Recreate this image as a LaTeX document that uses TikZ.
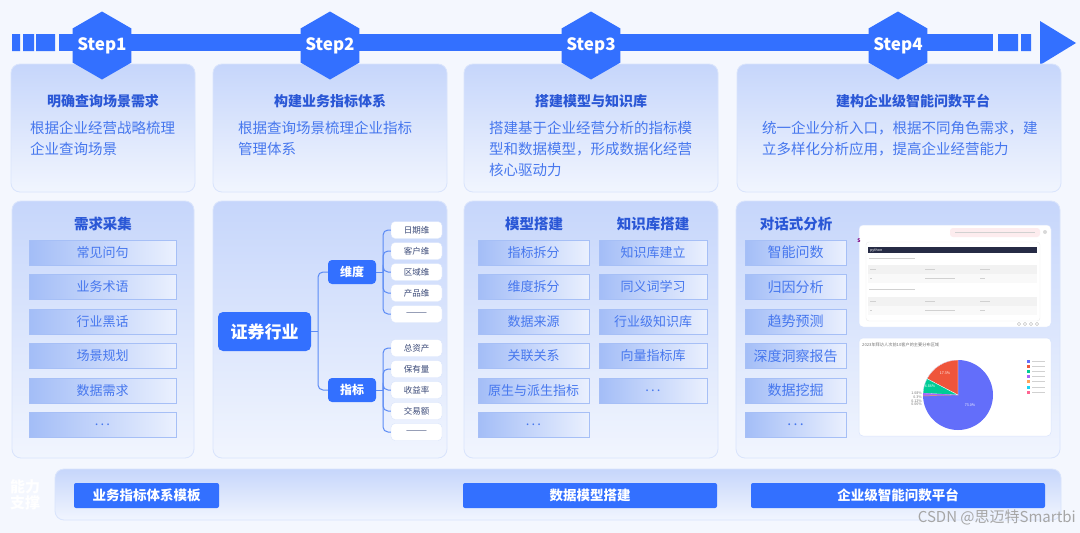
\documentclass[tikz,border=0pt]{standalone}
\usepackage{fontspec}
\setmainfont{Noto Sans CJK SC}
\usetikzlibrary{positioning, shapes.geometric}

\definecolor{pagebg}{HTML}{F4F7FE}
\definecolor{mainblue}{HTML}{3370FF}
\definecolor{titleblue}{HTML}{2A57D6}
\definecolor{textblue}{HTML}{4677EE}
\definecolor{cardtop}{HTML}{C6D6FB}
\definecolor{cardbot}{HTML}{F1F5FE}
\definecolor{cardline}{HTML}{D9E4FC}
\definecolor{itemleft}{HTML}{A3BDF7}
\definecolor{itemright}{HTML}{EAF0FE}
\definecolor{itemline}{HTML}{A6BFF6}
\definecolor{leafline}{HTML}{5B8BF5}
\definecolor{leaftext}{HTML}{3B4A78}
\definecolor{headdark}{HTML}{262B45}
\definecolor{bubble}{HTML}{FDECEE}
\definecolor{pieblue}{HTML}{636EFA}
\definecolor{piered}{HTML}{EF553B}
\definecolor{piegreen}{HTML}{00CC96}
\definecolor{piepurple}{HTML}{AB63FA}
\definecolor{pieorange}{HTML}{FFA15A}
\definecolor{piecyan}{HTML}{19D3F3}
\definecolor{piepink}{HTML}{FF6692}

\newcommand\fsz[2]{\fontsize{#1}{#2}\selectfont}
\newcommand\moredots{.\,.\,.}

\begin{document}
\begin{tikzpicture}[x=1pt, y=-1pt,
    panel/.style={draw=cardline, line width=0.8pt, rounded corners=9pt, top color=cardtop, bottom color=cardbot},
    stephex/.style={regular polygon, regular polygon sides=6, regular polygon rotate=30, fill=mainblue, minimum size=68pt, inner sep=0pt, outer sep=0pt},
    steplabel/.style={inner sep=0pt, text=white, font=\fsz{17}{17}\bfseries},
    cardtitle/.style={text=titleblue, font=\fsz{14}{16}\bfseries},
    cardbody/.style={text=textblue, font=\fsz{14.5}{21}, align=left, anchor=north west, inner sep=0pt},
    coltitle/.style={text=titleblue, font=\fsz{14.5}{16}\bfseries},
    item/.style={draw=itemline, line width=0.6pt, left color=itemleft, right color=itemright, minimum height=25pt, inner sep=0pt, text=textblue, font=\fsz{13}{15}},
    rootbox/.style={fill=mainblue, rounded corners=5pt, minimum width=93pt, minimum height=39pt, text=white, font=\fsz{17}{19}\bfseries},
    midbox/.style={fill=mainblue, rounded corners=4pt, minimum width=48pt, minimum height=24pt, text=white, font=\fsz{12}{14}\bfseries},
    leaf/.style={fill=white, draw=cardline, line width=0.4pt, rounded corners=4pt, minimum width=51pt, minimum height=17pt, inner sep=0pt, text=leaftext, font=\fsz{8.5}{10}},
    link/.style={draw=leafline, line width=1pt, rounded corners=5pt},
    basebtn/.style={fill=mainblue, rounded corners=2pt, minimum height=25pt, inner sep=0pt, text=white, font=\fsz{13.5}{15}\bfseries},
    shot/.style={fill=white, draw=cardline, line width=0.5pt, rounded corners=4pt},
    gline/.style={draw=black!18, line width=1pt},
    tiny/.style={inner sep=0pt, text=black!55, font=\fsz{3.6}{4}},
]
    % 1. Nền và dải mũi tên
    \fill[pagebg] (0,0) rectangle (1080,533);
    \useasboundingbox (0,0) rectangle (1080,533);
    \fill[mainblue] (12,34) rectangle (20,51) (23,34) rectangle (34,51) (36,34) rectangle (55,51);
    \fill[mainblue] (59,34) rectangle (993,51);
    \fill[mainblue] (998,34) rectangle (1018,51) (1021,34) rectangle (1031,51);
    \fill[mainblue] (1040,21) -- (1076,43) -- (1040,65) -- cycle;

    % 2. Bốn thẻ trên
    \path[panel] (11,64) rectangle (195,192);
    \path[panel] (213,64) rectangle (447,192);
    \path[panel] (464,64) rectangle (718,192);
    \path[panel] (737,64) rectangle (1061,192);

    \foreach \x/\n in {102/1, 330/2, 591/3, 898/4} {
        \node[stephex] (step\n) at (\x,45.5) {};
        \node[steplabel] (steptext\n) at (step\n) {Step\n};
    }

    \node[cardtitle] (t1) at (103,101) {明确查询场景需求};
    \node[cardbody] (b1) at (30,120.5) {根据企业经营战略梳理\\企业查询场景};
    \node[cardtitle] (t2) at (330,101) {构建业务指标体系};
    \node[cardbody] (b2) at (238,120.5) {根据查询场景梳理企业指标\\管理体系};
    \node[cardtitle] (t3) at (591,101) {搭建模型与知识库};
    \node[cardbody] (b3) at (489,120.5) {搭建基于企业经营分析的指标模\\型和数据模型，形成数据化经营\\核心驱动力};
    \node[cardtitle] (t4) at (913,101) {建构企业级智能问数平台};
    \node[cardbody] (b4) at (762,120.5) {统一企业分析入口，根据不同角色需求，建\\立多样化分析应用，提高企业经营能力};

    % 3. Bốn khung dưới
    \path[panel] (12,201) rectangle (194,458);
    \path[panel] (213,201) rectangle (447,458);
    \path[panel] (464,201) rectangle (718,458);
    \path[panel] (736,201) rectangle (1060,458);

    % cột 1
    \node[coltitle] (c1) at (103,224) {需求采集};
    \foreach \t [count=\i] in {常见问句, 业务术语, 行业黑话, 场景规划, 数据需求, \moredots}
        \node[item, minimum width=147pt] (req\i) at (102.5,{252.5+(\i-1)*34.5}) {\t};

    % cột 2: cây chỉ tiêu
    \node[rootbox] (root) at (264.5,331.5) {证券行业};
    \node[midbox] (dim) at (352,272) {维度};
    \node[midbox] (idx) at (352,390) {指标};
    \coordinate (trunk) at (318,331.5);
    \draw[link] (root.east) -- (trunk);
    \draw[link] (dim.west) -| (trunk) |- (idx.west);

    \foreach \t [count=\i] in {日期维, 客户维, 区域维, 产品维, ———}
        \node[leaf] (dl\i) at (416.5,{230+(\i-1)*21}) {\t};
    \foreach \t [count=\i] in {总资产, 保有量, 收益率, 交易额, ———}
        \node[leaf] (il\i) at (416.5,{348+(\i-1)*21}) {\t};
    \coordinate (dbr) at (383,272);
    \coordinate (ibr) at (383,390);
    \draw[link] (dim.east) -- (dbr);
    \draw[link] (idx.east) -- (ibr);
    \foreach \i in {1,...,5} {
        \draw[link] (dbr) |- (dl\i.west);
        \draw[link] (ibr) |- (il\i.west);
    }

    % cột 3
    \node[coltitle] (c3a) at (534,224) {模型搭建};
    \node[coltitle] (c3b) at (653,224) {知识库搭建};
    \foreach \t [count=\i] in {指标拆分, 维度拆分, 数据来源, 关联关系, 原生与派生指标, \moredots}
        \node[item, minimum width=111pt] (mod\i) at (533.5,{252.5+(\i-1)*34.5}) {\t};
    \foreach \t [count=\i] in {知识库建立, 同义词学习, 行业级知识库, 向量指标库, \moredots}
        \node[item, minimum width=108pt] (kb\i) at (653,{252.5+(\i-1)*34.5}) {\t};

    % cột 4
    \node[coltitle] (c4) at (796,224) {对话式分析};
    \foreach \t [count=\i] in {智能问数, 归因分析, 趋势预测, 深度洞察报告, 数据挖掘, \moredots}
        \node[item, minimum width=101pt, font=\fsz{14}{16}] (ana\i) at (795.5,{252.5+(\i-1)*34.5}) {\t};

    % ảnh chụp hội thoại
    \path[shot] (859,225) rectangle (1051,327);
    \path[fill=bubble, rounded corners=3pt] (950,228) rectangle (1040,237);
    \draw[gline] (955,232.5) -- (1035,232.5);
    \fill[black!15] (1045,232) circle (2pt);
    \node[text=violet, font=\fsz{5}{5}\bfseries, inner sep=0pt] (logo) at (859,241) {S};
    \path[fill=white, draw=black!8, rounded corners=3pt] (866,242) rectangle (1040,321);
    \fill[headdark] (868,247) rectangle (1037,253);
    \node[tiny, text=white, anchor=west] (py) at (870,250) {python};
    \draw[gline] (869,258) -- (915,258);
    \draw[gline] (869,289) -- (915,289);
    \foreach \y in {265,297} {
        \fill[black!5] (868,\y) rectangle (1037,\y+9);
        \fill[black!2.5] (868,\y+9) rectangle (1037,\y+18);
        \draw[gline, line width=0.8pt] (870,\y+4.5) -- (876,\y+4.5) (925,\y+4.5) -- (935,\y+4.5) (980,\y+4.5) -- (990,\y+4.5);
        \draw[gline, line width=0.8pt] (870,\y+13.5) -- (872,\y+13.5) (925,\y+13.5) -- (955,\y+13.5) (980,\y+13.5) -- (985,\y+13.5);
    }
    \foreach \x in {1019,1025,1031,1037}
        \draw[black!30, line width=0.4pt] (\x,324) circle (1.6pt);

    % ảnh chụp biểu đồ tròn
    \path[shot] (859,338) rectangle (1051,436);
    \node[tiny, anchor=west, font=\fsz{4.2}{5}] (pt) at (862,344.5) {2023年拜访人次前10客户的主要分布区域};
    \coordinate (pc) at (958,395);
    \fill[pieblue] (pc) circle (35pt);
    \fill[piered, draw=white, line width=0.3pt] (pc) -- ++(-90:35) arc[start angle=-90, end angle=-152.3, radius=35] -- cycle;
    \fill[piegreen, draw=white, line width=0.3pt] (pc) -- ++(-152.3:35) arc[start angle=-152.3, end angle=-177, radius=35] -- cycle;
    \fill[piepurple] (pc) -- ++(-177:35) arc[start angle=-177, end angle=-181, radius=35] -- cycle;
    \fill[pieorange] (pc) -- ++(-181:35) arc[start angle=-181, end angle=-182, radius=35] -- cycle;
    \node[tiny, text=white] (p1) at (970,405) {73.0\%};
    \node[tiny, text=white] (p2) at (945,373) {17.3\%};
    \node[tiny, text=white] (p3) at (930,386.5) {6.86\%};
    \foreach \t [count=\i] in {1.08\%, 0.3\%, 0.12\%, 0.06\%}
        \node[tiny, anchor=east] (ps\i) at (922,{393.5+(\i-1)*3.6}) {\t};
    \foreach \c [count=\i] in {pieblue, piered, piegreen, piepurple, pieorange, piecyan, piepink} {
        \fill[\c] (1026.5,{359.5+(\i-1)*5.2}) rectangle ++(3,3);
        \draw[gline, line width=0.7pt] (1032,{361+(\i-1)*5.2}) -- ++(13,0);
    }

    % 4. Thanh năng lực phía dưới
    \node[text=white, font=\fsz{15}{16}\bfseries, align=center] (cap) at (25,495) {能力\\支撑};
    \path[panel] (55,469) rectangle (1061,520);
    \node[basebtn, minimum width=145pt] (btn1) at (146.5,495.5) {业务指标体系模板};
    \node[basebtn, minimum width=254pt] (btn2) at (590,495.5) {数据模型搭建};
    \node[basebtn, minimum width=294pt] (btn3) at (898,495.5) {企业级智能问数平台};

    \node[text=black!35, font=\fsz{15}{17}, anchor=east, inner sep=0pt] (wm) at (1076,517) {CSDN @思迈特Smartbi};
\end{tikzpicture}
\end{document}
